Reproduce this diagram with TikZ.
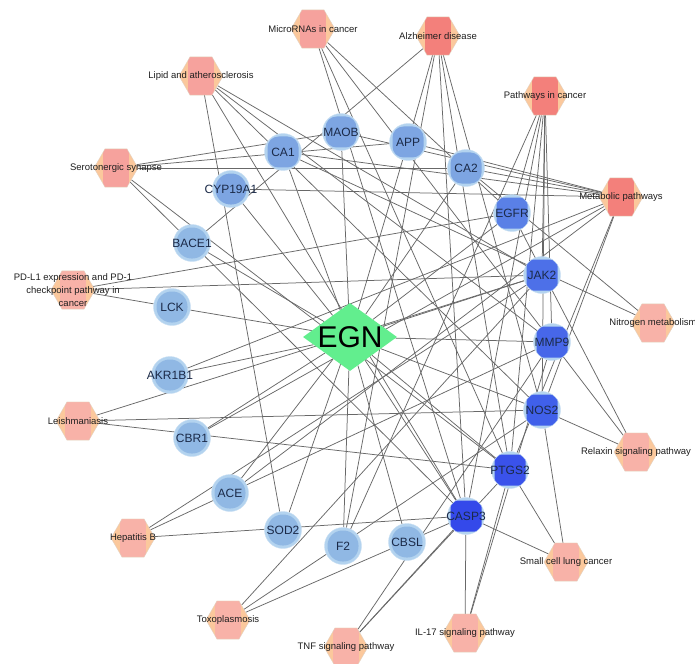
\documentclass[tikz,border=0pt]{standalone}
\usepackage{fontspec}
\setmainfont{Liberation Sans}
\usetikzlibrary{shapes.geometric,backgrounds}
\definecolor{edgec}{HTML}{686868}
\definecolor{peach}{HTML}{FBC89C}
\definecolor{hexline}{HTML}{E2D2C4}
\definecolor{salA}{HTML}{F3807B}
\definecolor{salB}{HTML}{F6A29D}
\definecolor{salC}{HTML}{F8B2A8}
\definecolor{ring}{HTML}{B3D3EF}
\definecolor{ringline}{HTML}{C9DFF3}
\definecolor{bluA}{HTML}{90B8E4}
\definecolor{bluB}{HTML}{7DA5E2}
\definecolor{bluC}{HTML}{5A80E6}
\definecolor{bluD}{HTML}{4D70E8}
\definecolor{bluE}{HTML}{4767E9}
\definecolor{bluF}{HTML}{4060EA}
\definecolor{bluG}{HTML}{3A52EB}
\definecolor{bluH}{HTML}{3449EA}
\definecolor{navy}{HTML}{1B2A48}
\definecolor{egn}{HTML}{62EE8E}
\newcommand\hexnode[4]{%
  \node[hexa, path picture={\fill[#3] ([xshift=-13pt]path picture bounding box.south) rectangle ([xshift=13pt]path picture bounding box.north);}] (#1) at (#2) {};
  \node[hexlab] at (#1) {#4};}
\newcommand\tnode[5]{%
  \node[tgt, path picture={\fill[#3, rounded corners=#4] ([shift={(-15.5pt,-15.5pt)}]path picture bounding box.center) rectangle ([shift={(15.5pt,15.5pt)}]path picture bounding box.center);}] (#1) at (#2) {};
  \node[tlab] at (#1) {#5};}
\begin{document}
\begin{tikzpicture}[x=1pt,y=-1pt,
  edge/.style={draw=edgec, line width=0.75pt},
  hexa/.style={regular polygon, regular polygon sides=6, minimum size=44pt, inner sep=0pt, draw=hexline, line width=0.4pt, fill=peach},
  hexlab/.style={font=\fontsize{9.5}{13}\selectfont, text=black!88, inner sep=0pt, align=center},
  tgt/.style={circle, minimum size=37pt, inner sep=0pt, fill=ring, draw=ringline, line width=0.4pt},
  tlab/.style={font=\fontsize{12}{14}\selectfont, text=navy, inner sep=0pt},
  hub/.style={diamond, minimum width=94pt, minimum height=68pt, inner sep=0pt, fill=egn},
  hublab/.style={font=\fontsize{30}{30}\selectfont, text=black, inner sep=0pt}]
\useasboundingbox (0,0) rectangle (695,663);
% pathways
\hexnode{mir}{313,29}{salB}{MicroRNAs in cancer}
\hexnode{alz}{438,36}{salA}{Alzheimer disease}
\hexnode{lip}{201,76}{salB}{Lipid and atherosclerosis}
\hexnode{pic}{545,96}{salA}{Pathways in cancer}
\hexnode{ser}{116,168}{salB}{Serotonergic synapse}
\hexnode{met}{621,197}{salA}{Metabolic pathways}
\hexnode{pdl}{73,290}{salC}{PD-L1 expression and PD-1\\checkpoint pathway in\\cancer}
\hexnode{nit}{653,323}{salC}{Nitrogen metabolism}
\hexnode{lei}{78,421}{salC}{Leishmaniasis}
\hexnode{rel}{636,452}{salC}{Relaxin signaling pathway}
\hexnode{hep}{133,538}{salC}{Hepatitis B}
\hexnode{scl}{566,562}{salC}{Small cell lung cancer}
\hexnode{tox}{228,620}{salC}{Toxoplasmosis}
\hexnode{ilk}{465,633}{salC}{IL-17 signaling pathway}
\hexnode{tnf}{346,647}{salC}{TNF signaling pathway}
% targets
\tnode{CA1}{283,152}{bluB}{11pt}{CA1}
\tnode{MAOB}{341,132}{bluB}{11pt}{MAOB}
\tnode{APP}{408,142}{bluB}{11pt}{APP}
\tnode{CA2}{466,168}{bluB}{11pt}{CA2}
\tnode{CYP}{231,189}{bluB}{15pt}{CYP19A1}
\tnode{EGFR}{512,213}{bluC}{7pt}{EGFR}
\tnode{BACE}{192,243}{bluA}{15pt}{BACE1}
\tnode{JAK}{542,275}{bluD}{3pt}{JAK2}
\tnode{LCK}{172,307}{bluA}{15pt}{LCK}
\tnode{MMP}{552,342}{bluE}{3pt}{MMP9}
\tnode{AKR}{170,375}{bluA}{15pt}{AKR1B1}
\tnode{NOS}{542,410}{bluF}{3pt}{NOS2}
\tnode{CBR}{192,438}{bluA}{15pt}{CBR1}
\tnode{PTGS}{510,470}{bluG}{2pt}{PTGS2}
\tnode{ACE}{230,493}{bluA}{15pt}{ACE}
\tnode{CASP}{466,516}{bluH}{2pt}{CASP3}
\tnode{SOD}{283,530}{bluA}{15pt}{SOD2}
\tnode{CBSL}{407,542}{bluA}{15pt}{CBSL}
\tnode{F2}{343,546}{bluA}{15pt}{F2}
% hub
\node[hub] (EGN) at (350,337) {};
\node[hublab] at (EGN) {EGN};
\begin{scope}[on background layer]
\fill[white] (0,0) rectangle (695,663);
\foreach \t in {CA1,MAOB,APP,CA2,CYP,EGFR,BACE,JAK,LCK,MMP,AKR,NOS,CBR,PTGS,ACE,CASP,SOD,CBSL,F2}
  \draw[edge] (EGN) -- (\t);
\foreach \a/\b in {mir/EGFR,mir/MMP,mir/PTGS,mir/CASP,
  alz/APP,alz/BACE,alz/CASP,alz/PTGS,alz/NOS,alz/F2,
  lip/SOD,lip/CASP,lip/NOS,lip/MMP,lip/JAK,
  pic/EGFR,pic/JAK,pic/MMP,pic/NOS,pic/PTGS,pic/CASP,pic/F2,
  ser/MAOB,ser/APP,ser/CA2,ser/PTGS,ser/CASP,
  met/CA1,met/MAOB,met/APP,met/CA2,met/CYP,met/AKR,met/CBR,met/ACE,met/NOS,met/PTGS,
  pdl/LCK,pdl/EGFR,pdl/JAK,
  nit/CA1,nit/CA2,
  lei/JAK,lei/NOS,lei/PTGS,
  rel/EGFR,rel/MMP,rel/NOS,
  hep/MMP,hep/JAK,hep/CASP,
  scl/CASP,scl/PTGS,scl/NOS,
  tox/JAK,tox/NOS,tox/CASP,
  ilk/CASP,ilk/PTGS,ilk/MMP,
  tnf/CASP,tnf/PTGS,tnf/MMP}
  \draw[edge] (\a) -- (\b);
\end{scope}
\end{tikzpicture}
\end{document}
